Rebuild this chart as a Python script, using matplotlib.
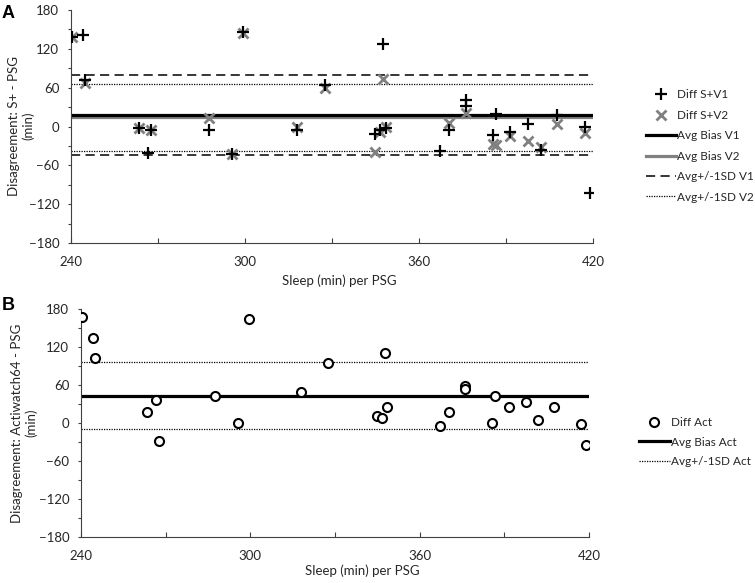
import numpy as np
import matplotlib
matplotlib.use("Agg")
import matplotlib.pyplot as plt
from matplotlib.ticker import MultipleLocator

plt.rcParams['font.family'] = ['Lato', 'DejaVu Sans']

# ---- data ----
psg = [240.5, 244.3, 245.0, 263.4, 266.5, 267.5, 287.5, 295.5, 299.4, 318.0,
       327.6, 344.8, 346.5, 347.6, 348.6, 367.1, 370.5, 376.2, 376.2, 385.6,
       386.7, 391.5, 397.6, 402.0, 407.5, 417.1, 419.1]
diff_v1 = [138, 142, 72, -3, -41, -5, -6, -42, 146, -5,
           64, -11, -5, 128, -2, -38, -5, 41, 32, -13,
           19, -8, 4, -37, 17, -1, -102]
diff_v2 = [138, np.nan, 67, -3, np.nan, -5, 13, -42, 144, 0,
           59, -39, -8, 73, -1, np.nan, 6, 21, np.nan, -27,
           -29, -15, -22, -31, 4, -10, np.nan]
diff_act = [167, 135, 102, 18, 36, -28, 42, 0, 164, 49,
            94, 11, 8, 110, 26, -4, 18, 59, 54, 0,
            43, 26, 33, 4, 25, -2, -34]

bias_v1, sd_lo_v1, sd_hi_v1 = 18, -44, 80
bias_v2, sd_lo_v2, sd_hi_v2 = 15, -38, 66
bias_act, sd_lo_act, sd_hi_act = 43, -10, 96

xlim = (240, 420)
ylim = (-180, 180)

W, H = 755, 583
fig = plt.figure(figsize=(W / 100, H / 100), dpi=100)

TXT = '#262626'
SP = '#404040'
FS = 9.5
LFS = 8.5


def fa(l, t, r, b):
    return [l / W, 1 - b / H, (r - l) / W, (b - t) / H]


def style(ax):
    ax.set_xlim(*xlim)
    ax.set_ylim(*ylim)
    for s in ['top', 'right']:
        ax.spines[s].set_visible(False)
    for s in ['left', 'bottom']:
        ax.spines[s].set_color(SP)
        ax.spines[s].set_linewidth(0.8)
    ax.xaxis.set_major_locator(MultipleLocator(60))
    ax.xaxis.set_minor_locator(MultipleLocator(30))
    ax.yaxis.set_major_locator(MultipleLocator(60))
    ax.yaxis.set_minor_locator(MultipleLocator(30))
    ax.tick_params(axis='x', which='both', direction='in', length=3.5,
                   width=0.8, color=SP, labelsize=FS, labelcolor=TXT, pad=9)
    ax.tick_params(axis='y', which='both', direction='out', length=2.5,
                   width=0.8, color=SP, labelsize=FS, labelcolor=TXT, pad=6)


# ---- Panel A ----
axA = fig.add_axes(fa(71, 10, 593, 243))
style(axA)
lx = list(xlim)
axA.plot(lx, [bias_v2] * 2, color='#808080', lw=2.3, label='Avg Bias V2', zorder=2)
axA.plot(lx, [bias_v1] * 2, color='black', lw=2.3, label='Avg Bias V1', zorder=2)
axA.plot(lx, [sd_hi_v1] * 2, color='black', lw=1.1, ls=(0, (6, 3.5)),
         label='Avg+/-1SD V1', zorder=2)
axA.plot(lx, [sd_lo_v1] * 2, color='black', lw=1.1, ls=(0, (6, 3.5)), zorder=2)
axA.plot(lx, [sd_hi_v2] * 2, color='black', lw=0.9, ls=(0, (1, 1)),
         label='Avg+/-1SD V2', zorder=2)
axA.plot(lx, [sd_lo_v2] * 2, color='black', lw=0.9, ls=(0, (1, 1)), zorder=2)
axA.plot(psg, diff_v2, ls='none', marker='x', ms=7.5, mew=2.0,
         color='#808080', label='Diff S+V2', zorder=3)
axA.plot(psg, diff_v1, ls='none', marker='+', ms=8, mew=1.6,
         color='black', label='Diff S+V1', zorder=4)

hA, lA = axA.get_legend_handles_labels()
orderA = ['Diff S+V1', 'Diff S+V2', 'Avg Bias V1', 'Avg Bias V2',
          'Avg+/-1SD V1', 'Avg+/-1SD V2']
hmap = dict(zip(lA, hA))
fig.legend([hmap[k] for k in orderA], orderA, loc='center left',
           bbox_to_anchor=(646 / W, 1 - 146 / H), frameon=False,
           fontsize=LFS, handlelength=2.5, handletextpad=0.15,
           labelspacing=0.8, borderpad=0, borderaxespad=0, numpoints=1,
           labelcolor=TXT)

fig.text(21 / W, 1 - 126 / H, 'Disagreement: S+ - PSG\n(min)', rotation=90,
         ha='center', va='center', fontsize=FS, color=TXT, linespacing=1.2)
fig.text(339 / W, 1 - 281 / H, 'Sleep (min) per PSG', ha='center',
         va='center', fontsize=FS, color=TXT)
fig.text(2 / W, 1 - 14 / H, 'A', ha='left', va='center', fontsize=13,
         fontweight='bold', color='black', family=['Liberation Sans', 'DejaVu Sans'])

# ---- Panel B ----
axB = fig.add_axes(fa(81, 309, 589, 537))
style(axB)
axB.plot(lx, [bias_act] * 2, color='black', lw=2.3, label='Avg Bias Act', zorder=2)
axB.plot(lx, [sd_hi_act] * 2, color='black', lw=0.9, ls=(0, (1, 1)),
         label='Avg+/-1SD Act', zorder=2)
axB.plot(lx, [sd_lo_act] * 2, color='black', lw=0.9, ls=(0, (1, 1)), zorder=2)
axB.plot(psg, diff_act, ls='none', marker='o', ms=6.5, mew=1.5,
         mfc='white', mec='black', label='Diff Act', zorder=3)

hB, lB = axB.get_legend_handles_labels()
orderB = ['Diff Act', 'Avg Bias Act', 'Avg+/-1SD Act']
hmapB = dict(zip(lB, hB))
fig.legend([hmapB[k] for k in orderB], orderB, loc='center left',
           bbox_to_anchor=(639 / W, 1 - 442 / H), frameon=False,
           fontsize=LFS, handlelength=2.6, handletextpad=0.15,
           labelspacing=0.72, borderpad=0, borderaxespad=0, numpoints=1,
           labelcolor=TXT)

fig.text(24 / W, 1 - 423 / H, 'Disagreement: Actiwatch64 - PSG\n(min)',
         rotation=90, ha='center', va='center', fontsize=FS, color=TXT,
         linespacing=1.2)
fig.text(362 / W, 1 - 571 / H, 'Sleep (min) per PSG', ha='center',
         va='center', fontsize=FS, color=TXT)
fig.text(2 / W, 1 - 306 / H, 'B', ha='left', va='center', fontsize=13,
         fontweight='bold', color='black', family=['Liberation Sans', 'DejaVu Sans'])

fig.savefig('out.png', dpi=100)
